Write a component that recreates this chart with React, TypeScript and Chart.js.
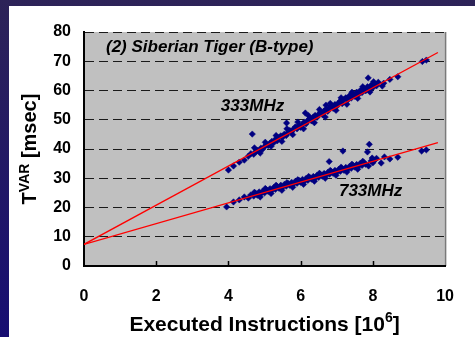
import React, { useEffect, useRef } from "react";
import { Chart, registerables } from "chart.js";
Chart.register(...registerables);

// ---- data ----
const x333 = [4.0, 4.14, 4.3, 4.44, 4.55, 4.62, 4.66, 4.7, 4.75, 4.8, 4.85, 4.9, 4.95, 5.0, 5.05, 5.1, 5.15, 5.2, 5.25, 5.3, 5.35, 5.4, 5.45, 5.5, 5.55, 5.6, 5.61, 5.65, 5.7, 5.75, 5.8, 5.85, 5.9, 5.95, 6.0, 6.05, 6.1, 6.13, 6.15, 6.2, 6.25, 6.3, 6.35, 6.4, 6.45, 6.5, 6.55, 6.6, 6.65, 6.7, 6.7, 6.75, 6.8, 6.85, 6.9, 6.95, 7.0, 7.05, 7.1, 7.15, 7.2, 7.25, 7.3, 7.35, 7.4, 7.45, 7.5, 7.55, 7.6, 7.65, 7.7, 7.75, 7.8, 7.85, 7.87, 7.9, 7.95, 8.0, 8.05, 8.1, 8.26, 8.47, 8.69, 9.37, 9.48,
  4.72, 4.88, 5.02, 5.18, 5.32, 5.48, 5.62, 5.78, 5.92, 6.08, 6.22, 6.38, 6.52, 6.68, 6.82, 6.98, 7.12, 7.28, 7.42, 7.58, 7.72, 7.92, 8.02, 8.15, 8.3];
const y333 = [32.8, 34.2, 35.5, 36.2, 37.5, 38.4, 45.1, 38.2, 39.0, 39.5, 39.2, 40.3, 40.0, 40.8, 41.6, 41.2, 42.0, 42.6, 42.1, 43.3, 42.8, 43.9, 44.5, 44.0, 45.1, 44.6, 48.9, 45.6, 46.3, 45.9, 46.8, 47.5, 46.9, 48.1, 47.4, 48.5, 49.2, 52.3, 48.6, 49.8, 50.4, 49.6, 50.9, 51.5, 50.8, 51.9, 52.6, 51.8, 53.0, 53.6, 55.0, 52.9, 54.1, 54.8, 53.9, 55.2, 54.6, 55.8, 56.4, 55.5, 56.9, 57.5, 56.7, 58.2, 57.4, 58.8, 58.0, 59.4, 58.6, 60.0, 59.3, 60.8, 59.9, 61.3, 64.3, 60.4, 61.8, 61.0, 62.2, 61.6, 61.5, 63.8, 64.7, 69.9, 70.4,
  40.4, 38.6, 42.3, 40.9, 44.6, 42.6, 46.9, 44.9, 49.2, 46.9, 51.4, 49.0, 53.5, 50.9, 55.6, 53.2, 57.5, 55.3, 59.4, 57.3, 61.3, 59.5, 63.0, 62.8, 62.5];
const x733 = [3.95, 4.14, 4.3, 4.44, 4.55, 4.62, 4.7, 4.75, 4.8, 4.85, 4.9, 4.95, 5.0, 5.05, 5.1, 5.15, 5.2, 5.25, 5.3, 5.35, 5.4, 5.45, 5.5, 5.55, 5.6, 5.65, 5.7, 5.75, 5.8, 5.85, 5.9, 5.95, 6.0, 6.05, 6.1, 6.15, 6.2, 6.25, 6.3, 6.35, 6.4, 6.45, 6.5, 6.55, 6.6, 6.65, 6.7, 6.75, 6.79, 6.8, 6.85, 6.9, 6.95, 7.0, 7.05, 7.1, 7.15, 7.17, 7.2, 7.25, 7.3, 7.35, 7.4, 7.45, 7.5, 7.55, 7.6, 7.65, 7.7, 7.75, 7.8, 7.85, 7.9, 7.95, 7.98, 8.0, 8.05, 8.23, 8.47, 8.69, 9.35, 9.48,
  4.72, 4.88, 5.02, 5.18, 5.32, 5.48, 5.62, 5.78, 5.92, 6.08, 6.22, 6.38, 6.52, 6.68, 6.82, 6.98, 7.12, 7.28, 7.42, 7.58, 7.72, 7.88, 8.1, 8.32];
const y733 = [20.2, 21.9, 22.6, 23.6, 23.2, 24.3, 23.9, 24.9, 24.2, 25.3, 24.7, 25.6, 25.0, 26.1, 25.5, 26.4, 25.8, 26.8, 26.2, 27.2, 26.6, 27.6, 26.9, 27.9, 27.3, 28.2, 27.6, 28.6, 28.0, 28.9, 28.3, 29.3, 28.6, 29.6, 29.0, 29.9, 29.3, 30.3, 29.7, 30.6, 30.0, 31.0, 30.3, 31.3, 30.7, 31.6, 31.0, 32.0, 35.7, 31.4, 32.3, 31.7, 32.7, 32.0, 33.0, 32.4, 33.3, 39.3, 32.7, 33.7, 33.0, 34.0, 33.4, 34.4, 33.8, 34.7, 34.1, 35.1, 34.4, 35.4, 34.8, 39.0, 41.6, 35.9, 36.9, 35.3, 36.2, 35.2, 36.6, 37.2, 39.3, 39.7,
  25.2, 23.6, 26.5, 24.8, 27.6, 25.9, 28.5, 26.9, 29.5, 27.9, 30.6, 29.0, 31.7, 30.0, 32.7, 31.0, 33.8, 32.1, 34.8, 33.1, 35.8, 34.2, 36.8, 37.3];
const fitX = [0, 9.8];
const fit333 = [7.4, 73.0];
const fit733 = [7.4, 42.2];
const xTicks = [0, 2, 4, 6, 8, 10];
const yTicks = [0, 10, 20, 30, 40, 50, 60, 70, 80];
const chartTitle = "(2) Siberian Tiger (B-type)";
const seriesNames = ["333MHz", "733MHz"];

const FONT = "'Liberation Sans', Arial, sans-serif";

const pts = (xs: number[], ys: number[]) => xs.map((x, i) => ({ x, y: ys[i] }));

const deco = {
  id: "deco",
  beforeDraw(chart: any) {
    const { ctx, chartArea: a } = chart;
    ctx.save();
    ctx.fillStyle = "#c0c0c0";
    ctx.fillRect(a.left, a.top, a.right - a.left, a.bottom - a.top);
    ctx.strokeStyle = "#7a7a7a";
    ctx.lineWidth = 1.5;
    ctx.beginPath();
    ctx.moveTo(a.right + 0.5, a.top);
    ctx.lineTo(a.right + 0.5, a.bottom);
    ctx.stroke();
    ctx.restore();
  },
  afterDraw(chart: any) {
    const { ctx, chartArea: a, scales } = chart;
    const xs = scales.x, ys = scales.y;
    ctx.save();
    // inward x tick marks
    ctx.strokeStyle = "#000";
    ctx.lineWidth = 1.5;
    xTicks.slice(1, -1).forEach((v) => {
      const px = Math.round(xs.getPixelForValue(v)) + 0.5;
      ctx.beginPath();
      ctx.moveTo(px, a.bottom);
      ctx.lineTo(px, a.bottom - 5);
      ctx.stroke();
    });
    ctx.fillStyle = "#000";
    ctx.textBaseline = "alphabetic";
    ctx.textAlign = "left";
    // chart title
    ctx.font = `italic bold 17px ${FONT}`;
    ctx.fillText(chartTitle, a.left + 22, a.top + 20);
    // series labels
    ctx.fillText(seriesNames[0], xs.getPixelForValue(3.79), ys.getPixelForValue(53));
    ctx.fillText(seriesNames[1], xs.getPixelForValue(7.06), ys.getPixelForValue(23.9));
    // x title
    const cx = (a.left + a.right) / 2;
    const main = "Executed Instructions [10";
    const big = `bold 21px ${FONT}`;
    const small = `bold 14px ${FONT}`;
    ctx.font = big;
    const w1 = ctx.measureText(main).width;
    const w3 = ctx.measureText("]").width;
    ctx.font = small;
    const w2 = ctx.measureText("6").width;
    const sx = cx - (w1 + w2 + w3) / 2;
    const by = 331;
    ctx.font = big;
    ctx.fillText(main, sx, by);
    ctx.font = small;
    ctx.fillText("6", sx + w1, by - 9);
    ctx.font = big;
    ctx.fillText("]", sx + w1 + w2, by);
    // y title
    const cy = (a.top + a.bottom) / 2;
    ctx.translate(36, cy);
    ctx.rotate(-Math.PI / 2);
    const yb = `bold 20px ${FONT}`;
    const ysm = `bold 14px ${FONT}`;
    ctx.font = yb;
    const t1 = ctx.measureText("T").width;
    const t3 = ctx.measureText(" [msec]").width;
    ctx.font = ysm;
    const t2 = ctx.measureText("VAR").width;
    const s0 = -(t1 + t2 + t3) / 2;
    ctx.font = yb;
    ctx.fillText("T", s0, 0);
    ctx.font = ysm;
    ctx.fillText("VAR", s0 + t1, -7);
    ctx.font = yb;
    ctx.fillText(" [msec]", s0 + t1 + t2, 0);
    ctx.restore();
  },
};

export default function App() {
  const ref = useRef<HTMLCanvasElement | null>(null);
  useEffect(() => {
    if (!ref.current) return;
    const tickFont = { family: FONT, size: 16, weight: "bold" as const };
    const chart = new Chart(ref.current, {
      type: "scatter",
      data: {
        datasets: [
          {
            data: pts(fitX, fit333),
            showLine: true,
            borderColor: "#ff0000",
            borderWidth: 1.3,
            pointRadius: 0,
          },
          {
            data: pts(fitX, fit733),
            showLine: true,
            borderColor: "#ff0000",
            borderWidth: 1.3,
            pointRadius: 0,
          },
          {
            data: pts(x333, y333),
            pointStyle: "rectRot",
            pointRadius: 3.2,
            backgroundColor: "#000080",
            borderColor: "#000080",
            borderWidth: 0.5,
          },
          {
            data: pts(x733, y733),
            pointStyle: "rectRot",
            pointRadius: 3.2,
            backgroundColor: "#000080",
            borderColor: "#000080",
            borderWidth: 0.5,
          },
        ],
      },
      options: {
        animation: false,
        responsive: false,
        maintainAspectRatio: false,
        layout: { padding: { left: 0, right: 24, top: 32, bottom: 0 } },
        plugins: { legend: { display: false }, tooltip: { enabled: false } },
        scales: {
          x: {
            type: "linear",
            min: 0,
            max: 10,
            afterFit: (s: any) => {
              s.height = 71;
            },
            afterBuildTicks: (s: any) => {
              s.ticks = xTicks.map((v) => ({ value: v }));
            },
            grid: { display: false, drawTicks: false },
            border: { display: true, color: "#000", width: 2 },
            ticks: { padding: 21, color: "#000", font: tickFont, maxRotation: 0 },
          },
          y: {
            type: "linear",
            min: 0,
            max: 80,
            afterFit: (s: any) => {
              s.width = 84;
            },
            afterBuildTicks: (s: any) => {
              s.ticks = yTicks.map((v) => ({ value: v }));
            },
            grid: {
              color: (c: any) => (c.tick && c.tick.value === 0 ? "rgba(0,0,0,0)" : "#1a1a1a"),
              lineWidth: 1,
              drawTicks: false,
            },
            border: { display: true, color: "#000", width: 2, dash: [9, 5] },
            ticks: { padding: 13, color: "#000", font: tickFont },
          },
        },
      },
      plugins: [deco],
    });
    return () => chart.destroy();
  }, []);

  return (
    <div
      style={{
        position: "fixed",
        left: 0,
        top: 0,
        width: 475,
        height: 337,
        background: "linear-gradient(to bottom, #2d2358, #170e72)",
        overflow: "hidden",
      }}
    >
      <div
        style={{ position: "absolute", left: 9, top: 6, right: 0, bottom: 0, background: "#ffffff" }}
      />
      <canvas
        ref={ref}
        width={475}
        height={337}
        style={{ position: "absolute", left: 0, top: 0, width: 475, height: 337 }}
      />
    </div>
  );
}
